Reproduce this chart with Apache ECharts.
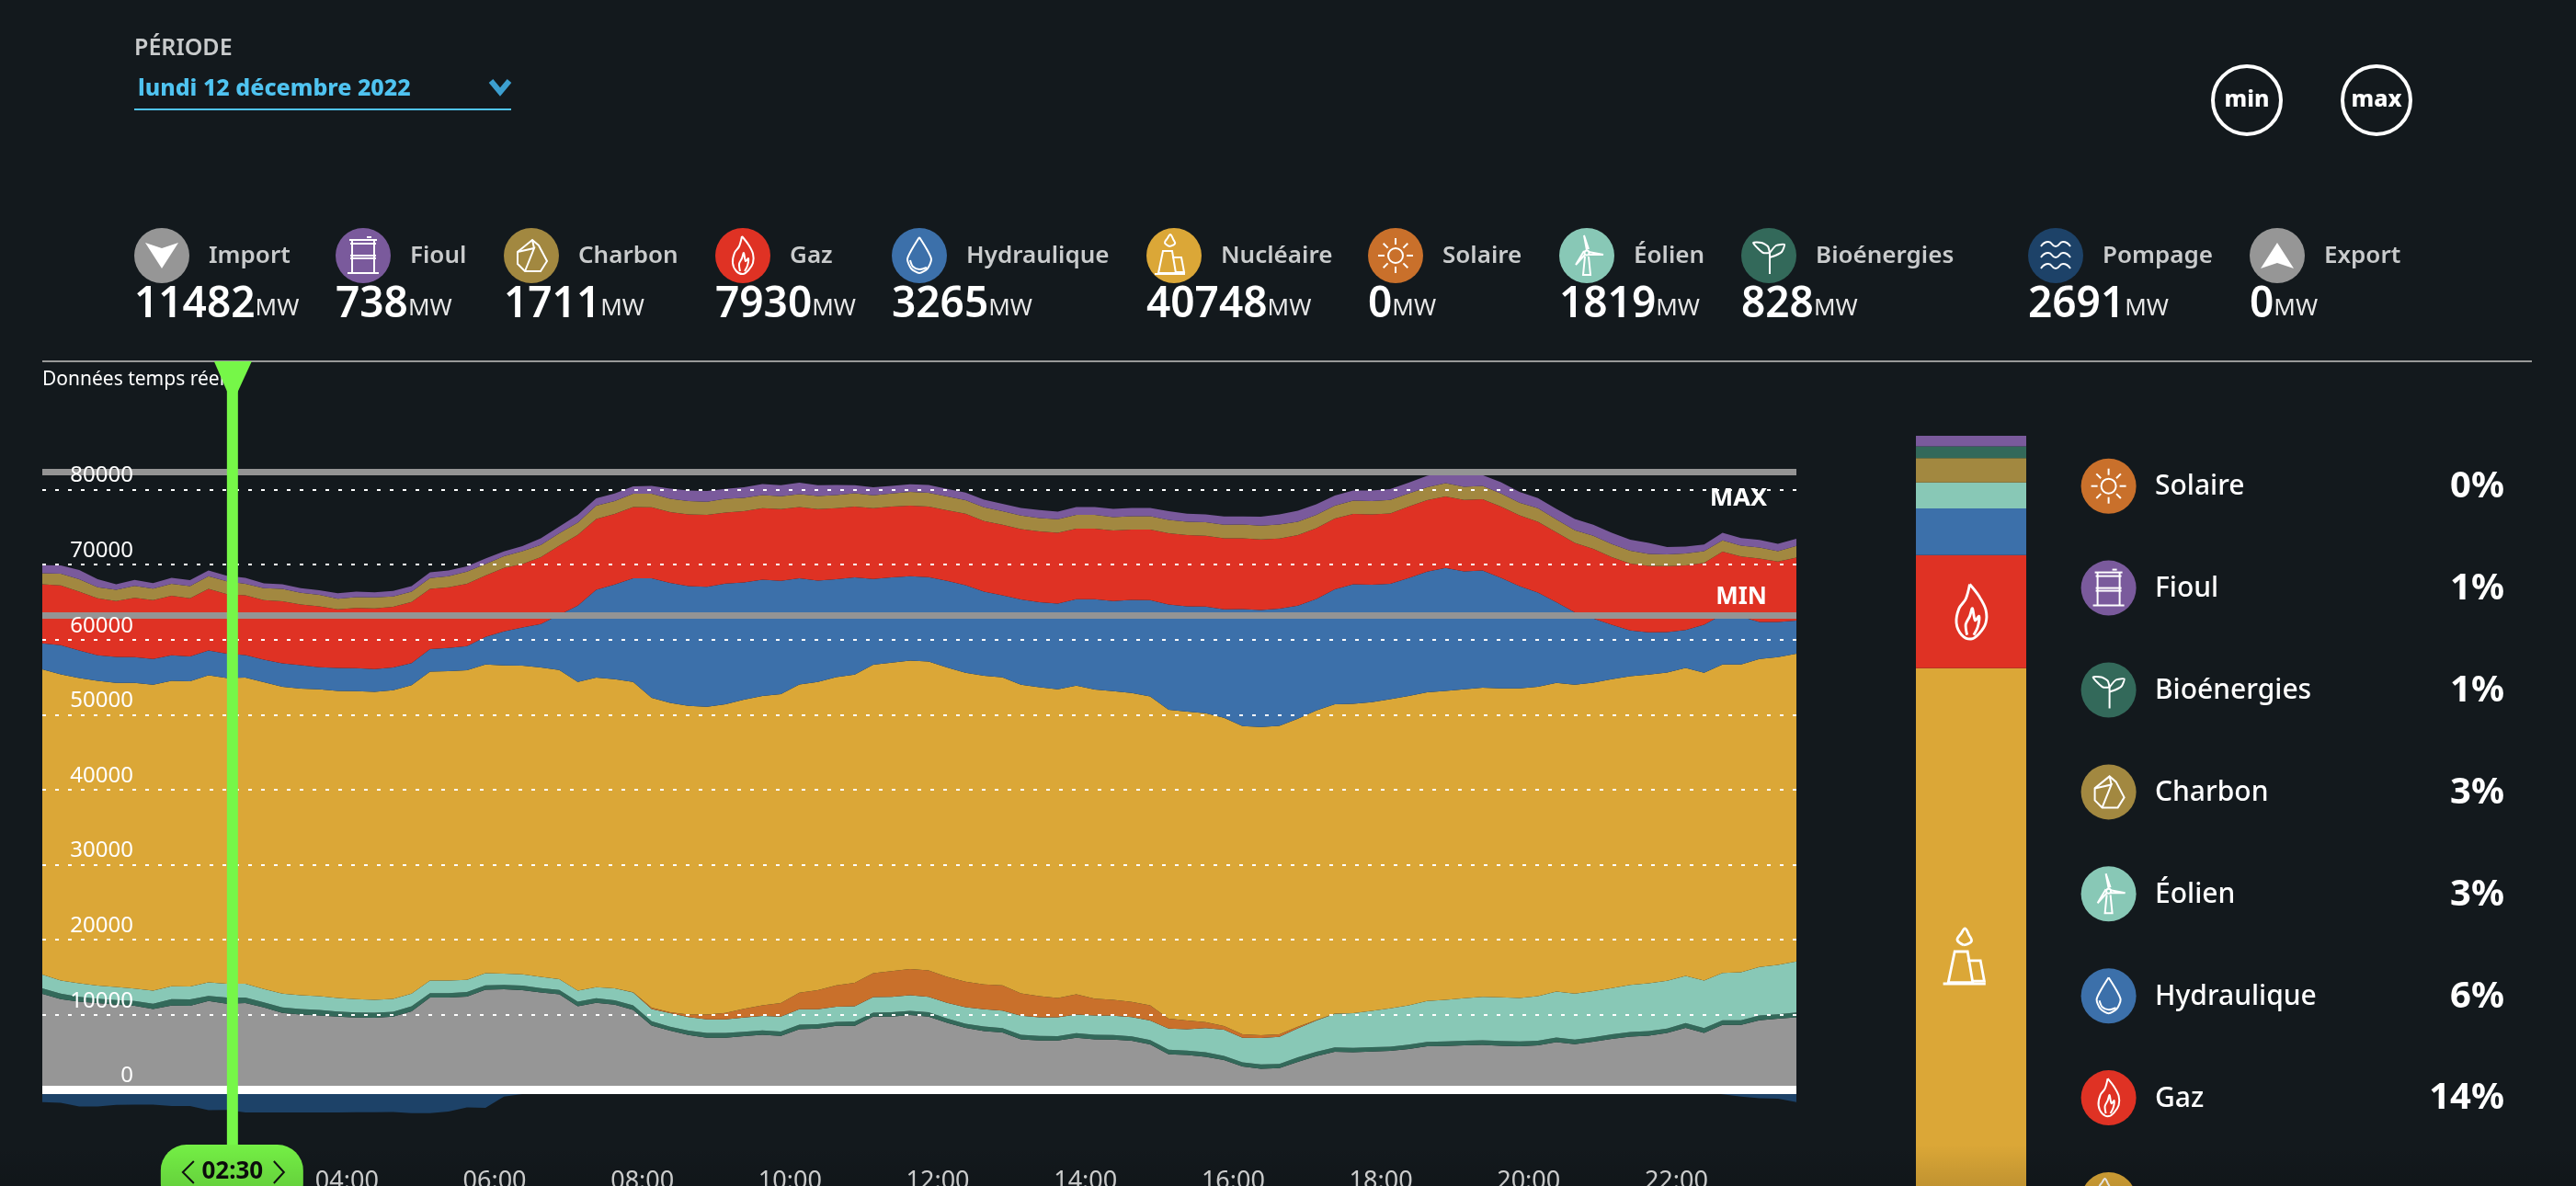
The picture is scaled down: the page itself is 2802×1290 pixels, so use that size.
<!DOCTYPE html>
<html lang="fr">
<head>
<meta charset="utf-8">
<title>Mix électrique</title>
<script src="https://cdn.jsdelivr.net/npm/echarts@6/dist/echarts.min.js"></script>
<style>html,body{margin:0;padding:0;background:#13191d;overflow:hidden}#c{width:2802px;height:1290px}</style>
</head>
<body>
<div id="c"></div>
<script>
const periodLabel = 'lundi 12 décembre 2022';
const tickHours = ['04:00','06:00','08:00','10:00','12:00','14:00','16:00','18:00','20:00','22:00'];
const cursorTime = '02:30';
const maxValue = 82350;
const minValue = 63270;

const importMW = [12781,12087,11760,11556,11352,11188,10780,11229,11188,11842,11482,11556,10984,10249,10044,9922,9758,9636,9595,9758,10453,12291,12291,12414,13353,13394,13272,12986,12741,11147,11597,11352,10657,
8574,7880,7307,6940,6940,7144,7348,7185,8083,8165,8533,8533,9758,9758,9963,9758,8941,8247,7838,7634,6735,6572,6572,6940,6735,6695,6531,6041,4734,4652,4407,3958,3100,2814,2895,
3713,4489,5060,5020,5101,5183,5428,5796,5837,5919,6000,5878,5796,5919,6368,6082,6409,6777,7103,7226,7593,8247,7593,8655,8655,9268,9472,9677];
const bioMW = [735,735,650,610,610,650,690,860,860,690,828,735,690,735,735,735,690,690,690,650,690,610,610,610,570,610,610,570,570,610,610,570,610,
570,530,570,650,650,610,570,570,610,570,530,570,530,570,570,570,570,570,610,610,610,610,570,610,610,610,610,610,610,570,610,570,570,570,570,
610,570,610,570,570,570,610,610,610,610,610,650,650,610,610,610,610,610,610,610,570,650,650,610,610,650,610,650];
const eolienMW = [1838,1757,1797,1716,1757,1675,1757,1716,1716,1797,1819,1838,1757,1838,1838,1838,1797,1757,1716,1716,1675,1675,1675,1634,1634,1471,1511,1511,1430,1471,1471,1593,1716,
1634,1797,1838,1797,1797,1879,1920,2002,2043,2002,2002,2043,2083,2083,2083,2083,2083,2206,2288,2328,2533,2492,2533,2492,2574,2574,2574,2574,2819,2860,3227,3472,3268,3513,3595,
3881,4167,4453,4616,4861,5106,5229,5433,5556,5678,5801,5801,5801,5964,6128,6128,6128,6168,6291,6373,6373,6291,6332,6332,6413,6454,6577,6781];
const solaireMW = [0,0,0,0,0,0,0,0,0,0,0,0,0,0,0,0,0,0,0,0,0,0,0,0,0,0,0,0,0,0,0,0,40,
163,123,327,654,858,1185,1430,1797,2206,2533,2860,3105,3186,3431,3472,3513,3472,3391,3309,3350,2982,2819,2574,2696,2247,2124,2002,2043,1307,1144,776,490,449,368,327,
204,82,41,0,0,0,0,0,0,0,0,0,0,0,0,0,0,0,0,0,0,0,0,0,0,0,0,0];
const nucleaireMW = [40688,40810,40688,40647,40524,40728,40769,40728,40688,40933,40748,40810,40892,40892,40851,40892,40933,41055,41055,41137,41137,41178,41219,41259,41137,41096,41137,41219,41219,41137,41259,41219,41341,
41300,41259,41137,41014,41137,41178,41219,41178,41096,41096,41096,41096,41096,41096,41137,41178,41219,41178,41137,41055,41137,41178,41137,41137,41178,41137,41178,41178,41178,41178,41178,41096,41096,41096,41137,
41055,41259,41219,41259,41137,41219,41219,41137,41178,41178,41178,41178,41259,41219,41137,41178,41137,41178,41137,41137,41096,41055,41014,41096,41014,41055,41014,41014];
const hydrauliqueMW = [3472,3881,3677,3391,3472,3431,3431,3391,3309,3309,3265,3023,3023,3145,3145,2941,3064,3064,3023,3023,2941,2982,3105,3227,3677,4534,5106,5801,7353,10172,11724,12623,13807,
15932,15972,15972,16013,16095,15646,15523,15115,14134,13521,13031,12949,11438,11356,11234,11234,11561,11683,11234,10948,11356,11315,11438,11520,12051,12010,12418,12827,14052,14052,14216,14461,15605,15605,15605,
15074,14869,15319,15932,15646,15360,15727,16095,16381,15727,15646,14747,13644,12582,10744,9641,8538,7271,6087,5637,5392,5065,6413,6659,6373,4943,4698,4412];
const gazMW = [7884,7966,7843,7598,7435,7925,7843,7925,7762,8211,7930,7966,7925,8252,8088,8129,7802,8047,8088,8088,8129,8047,8088,8293,8170,8456,8456,8905,9232,9436,9436,9396,9518,
9477,9436,9559,9559,9477,9477,9518,9559,9518,9518,9477,9436,9436,9436,9396,9396,9396,9518,9396,9396,9396,9436,9436,9396,9396,9396,9355,9396,9477,9477,9436,9477,9436,9396,9355,
9396,9436,9436,9355,9396,9396,9518,9518,9518,9518,9477,9477,9436,9436,9314,9273,9273,8987,8905,8865,8783,8579,8252,8374,8047,8456,8047,8415];
const charbonMW = [1471,1552,1634,1471,1511,1593,1552,1593,1634,1675,1711,1511,1593,1675,1552,1511,1430,1430,1471,1389,1389,1430,1471,1634,1552,1552,1716,1634,1634,1634,1757,1716,1757,
1797,1797,1757,1757,1838,1797,1757,1716,1716,1757,1757,1797,1716,1757,1838,1838,1838,1797,1838,1797,1797,1797,1797,1838,1838,1797,1797,1797,1797,1797,1797,1797,1838,1838,1879,
1797,1757,1716,1797,1757,1797,1757,1716,1797,1757,1797,1757,1675,1797,1716,1675,1757,1757,1716,1593,1552,1593,1552,1511,1430,1471,1389,1552];
const fioulMW = [1062,1103,1226,1062,735,776,735,817,776,776,738,817,654,613,613,613,735,735,694,735,735,776,776,694,735,654,654,899,899,1021,980,1021,980,
1062,1348,1430,1430,1307,1389,1471,1471,1511,1430,1348,1062,1062,1021,1021,1062,1021,1021,1021,980,1021,1062,1021,1062,1062,1103,1103,1103,1144,1062,1062,1103,1062,1185,1348,
1471,1430,1348,1348,1430,1430,1430,1552,1471,1552,1430,1511,1430,1348,1430,1511,1471,1511,1471,1471,980,940,899,1021,1021,1021,980,940];
const pompageMW = [-1634,-1716,-2206,-2206,-2002,-1961,-1961,-2165,-2165,-2696,-2691,-3023,-3023,-3023,-3023,-3023,-3023,-2982,-2982,-2941,-3105,-3105,-2900,-2328,-2410,-899,-570,0,0,0,0,0,0,
0,0,0,0,0,0,0,0,0,0,0,0,0,0,0,0,0,0,0,0,0,0,0,0,0,0,0,0,0,0,0,0,0,0,0,
0,0,0,0,0,0,0,0,0,0,0,0,0,0,0,0,0,0,0,0,0,0,-300,-600,-899,-1103,-1185,-1634];
const timeLabels = [];
for (let h = 0; h < 24; h++) for (const m of ['00','15','30','45']) timeLabels.push(String(h).padStart(2,'0') + ':' + m);

const headerNames = ['Import','Fioul','Charbon','Gaz','Hydraulique','Nucléaire','Solaire','Éolien','Bioénergies','Pompage','Export'];
const headerValues = [11482,738,1711,7930,3265,40748,0,1819,828,2691,0];
const mixNames = ['Solaire','Fioul','Bioénergies','Charbon','Éolien','Hydraulique','Gaz','Nucléaire'];
const mixPercents = ['0%','1%','1%','3%','3%','6%','14%','71%'];
const barValues = {Nucléaire:40748, Gaz:7930, Hydraulique:3265, Éolien:1819, Charbon:1711, Bioénergies:828, Fioul:738};

const colors = {Import:'#969696',Fioul:'#7a5a9c',Charbon:'#a28840',Gaz:'#df3224',Hydraulique:'#3c70aa',Nucléaire:'#dba737',Solaire:'#c9702b',Éolien:'#88c8b6',Bioénergies:'#33695a',Pompage:'#1d4268',Export:'#969696'};
const headerLeft = [146,365,548,778,970,1247,1488,1696,1894,2206,2447];
const FF = '"Noto Sans", sans-serif';
const BG = '#13191d', GREEN = '#76f748';
const IZ = 21;

function txt(x,y,text,font,fill,align){return {type:'text',x,y:y+2,silent:true,z:20,style:{text,font:font+' '+FF,fill,align:align||'left',verticalAlign:'middle'}};}
function pl(points,smooth,closed){return {type:closed?'polygon':'polyline',silent:true,z:IZ,shape:{points,smooth:smooth||0},style:{stroke:'#fff',lineWidth:2,fill:null}};}
function fillPoly(points){return {type:'polygon',silent:true,z:IZ,shape:{points},style:{fill:'#fff'}};}
function circ(x,y,r){return {type:'circle',silent:true,z:IZ,shape:{cx:x,cy:y,r},style:{stroke:'#fff',lineWidth:2,fill:null}};}
const flame=()=>[pl([[-1,-21],[6,-12],[11,-2],[11,8],[6,16],[0,20],[-7,17],[-11,8],[-9,-3],[-4,-10],[-1,-21]],0.35),pl([[-3,17],[-4,9],[-1,3],[1,-3],[3,6],[6,3],[5,11],[2,17]],0.3)];
const icons={
 Import:()=>[fillPoly([[-18,-14],[0,-8],[18,-14],[0,14]])],
 Export:()=>[fillPoly([[0,-14],[18,14],[0,8],[-18,14]])],
 Fioul:()=>[pl([[-15,-17],[15,-17]]),pl([[-12,-17],[-12,19]]),pl([[12,-17],[12,19]]),pl([[-14,0],[14,0]]),pl([[-14,3],[14,3]]),pl([[-17,19],[17,19]]),pl([[-14,-13],[14,-13]]),pl([[4,-20],[9,-20]])],
 Charbon:()=>[pl([[-15,-4],[1,-17],[8,-11],[17,6],[10,17],[-7,17],[-15,9]],0,true),pl([[-15,-4],[3,-8],[-7,17]]),pl([[1,-17],[3,-8]])],
 Gaz:flame,
 Hydraulique:()=>[pl([[0,-20],[8,-7],[13,4],[9,14],[0,19],[-9,14],[-13,4],[-8,-7],[0,-20]],0.25),pl([[-10,5],[-7,12],[0,15],[8,13]],0.3)],
 Nucléaire:()=>[pl([[-12,-5],[-2,-5],[2,19],[-17,19]],0,true),pl([[-2,2],[8,2],[11,18],[2,18]]),pl([[-21,20],[12,20]]),pl([[-5,-10],[-10,-14],[-7,-19],[-4,-23],[-1,-18],[1,-13],[-5,-10]],0.4)],
 Solaire:()=>{const a=[circ(0,0,8)];for(const p of [[0,-1],[0.7,-0.7],[1,0],[0.7,0.7],[0,1],[-0.7,0.7],[-1,0],[-0.7,-0.7]])a.push(pl([[p[0]*12,p[1]*12],[p[0]*19,p[1]*19]]));return a;},
 Éolien:()=>[pl([[-2,1],[-4,21],[4,21],[2,1]]),circ(0,-3,2.5),pl([[0,-6],[-3,-22],[2,-7]]),pl([[2,-4],[18,-1],[2,-1]]),pl([[-2,-1],[-12,10],[-3,-5]])],
 Bioénergies:()=>[pl([[1,20],[1,-5]]),pl([[1,-3],[-6,-3],[-12,-8],[-17,-14],[-8,-14],[-1,-10],[1,-3]],0.2),pl([[1,-3],[8,-11],[17,-12],[14,-4],[7,0],[1,2]],0.2)],
 Pompage:()=>{const a=[];for(const y of [-12,0,12])a.push(pl([[-16,y+2],[-8,y-3],[0,y+2],[8,y-3],[16,y+2]],0.6));return a;}
};
function icon(name,cx,cy,s){return {type:'group',x:cx,y:cy,scaleX:s||1,scaleY:s||1,silent:true,children:icons[name]()};}
function badge(name,cx,cy){return [{type:'circle',silent:true,z:20,shape:{cx,cy,r:30},style:{fill:colors[name]}},icon(name,cx,cy)];}

const graphics = [];
graphics.push(txt(146,51,'PÉRIODE','600 25px','#c9cbcc'));
graphics.push(txt(150,95,periodLabel,'800 25px','#4fc3f0'));
graphics.push({type:'rect',silent:true,z:20,shape:{x:146,y:118,width:410,height:2},style:{fill:'#4fc3f0'}});
graphics.push({type:'polyline',silent:true,z:20,shape:{points:[[534,88],[544,100],[554,88]]},style:{stroke:'#3c9fd0',lineWidth:6,fill:null}});
for (const [x,t] of [[2444,'min'],[2585,'max']]) {
  graphics.push({type:'circle',silent:true,z:20,shape:{cx:x,cy:109,r:37},style:{stroke:'#fff',lineWidth:4,fill:null}});
  graphics.push(txt(x,107,t,'800 25px','#fff','center'));
}
headerNames.forEach((n,i)=>{
  const l=headerLeft[i];
  graphics.push(...badge(n,l+30,278));
  graphics.push(txt(l+81,277,n,'600 26px','#c9cbcc'));
  graphics.push({type:'text',x:l,y:330,silent:true,z:20,style:{text:'{v|'+headerValues[i]+'}{u|MW}',fill:'#fff',align:'left',verticalAlign:'middle',
    rich:{v:{font:'600 46px '+FF,fill:'#fff',lineHeight:50,verticalAlign:'bottom'},u:{font:'400 26px '+FF,fill:'#e8e8e8',lineHeight:50,verticalAlign:'bottom',padding:[0,0,6,0]}}}});
});
graphics.push({type:'rect',silent:true,z:20,shape:{x:46,y:392,width:2708,height:2},style:{fill:'#999'}});
graphics.push(txt(46,411,'Données temps réel','400 21px','#fff'));
mixNames.forEach((n,i)=>{
  const y=528.7+110.9*i;
  const extra = i===7 ? 4 : 0;
  graphics.push(...badge(n,2293.6,y));
  graphics.push(txt(2344,y-1+extra,n,'500 30px','#fff'));
  graphics.push(txt(2724,y-1+extra,mixPercents[i],'700 40px','#fff','right'));
});
graphics.push(icon('Gaz',2144,666,1.45));
graphics.push(icon('Nucléaire',2143,1042,1.4));

const stackOrder=[['Import',importMW],['Bioénergies',bioMW],['Éolien',eolienMW],['Solaire',solaireMW],['Nucléaire',nucleaireMW],['Hydraulique',hydrauliqueMW],['Gaz',gazMW],['Charbon',charbonMW],['Fioul',fioulMW]];
const series = stackOrder.map(([n,d])=>({name:n,type:'line',stack:'mix',data:d,xAxisIndex:0,yAxisIndex:0,symbol:'none',lineStyle:{width:0},areaStyle:{color:colors[n],opacity:1},z:2,silent:true}));
series.push({name:'Pompage',type:'line',stack:'neg',data:pompageMW,xAxisIndex:0,yAxisIndex:0,symbol:'none',lineStyle:{width:0},areaStyle:{color:colors.Pompage,opacity:1},z:2,silent:true});
series[0].markLine={silent:true,symbol:'none',animation:false,z:5,precision:0,data:[
  {yAxis:maxValue,lineStyle:{color:'#949494',width:7,type:'solid'},label:{show:true,formatter:'MAX',position:'insideEndBottom',distance:[32,15],color:'#fff',fontSize:27,fontWeight:700,fontFamily:FF}},
  {yAxis:minValue,lineStyle:{color:'#949494',width:7,type:'solid'},label:{show:true,formatter:'MIN',position:'insideEndTop',distance:[32,7],color:'#fff',fontSize:26,fontWeight:700,fontFamily:FF}},
  {yAxis:0,lineStyle:{color:'#ffffff',width:9,type:'solid'},label:{show:false}}
]};
for (const n of ['Nucléaire','Gaz','Hydraulique','Éolien','Charbon','Bioénergies','Fioul']) {
  series.push({name:'bar '+n,type:'bar',stack:'b',xAxisIndex:1,yAxisIndex:1,barWidth:'100%',data:[barValues[n]],itemStyle:{color:colors[n]},silent:true});
}
const barTotal = Object.values(barValues).reduce((a,b)=>a+b,0);

const chart = echarts.init(document.getElementById('c'));
chart.setOption({
  animation:false,backgroundColor:BG,
  grid:[{left:46,width:1908,top:451,height:816,containLabel:false,outerBoundsMode:'none'},{left:2084,width:120,top:474,height:885,outerBoundsMode:'none'}],
  xAxis:[{type:'category',gridIndex:0,data:timeLabels,boundaryGap:false,axisLine:{show:false},axisTick:{show:false},splitLine:{show:false},
    axisLabel:{color:'#dfe0e0',fontSize:27,fontFamily:FF,margin:5,padding:[0,0,0,20],interval:(i,v)=>tickHours.includes(v),formatter:v=>v}},
    {type:'category',gridIndex:1,data:['mix'],show:false}],
  yAxis:[{type:'value',gridIndex:0,min:-10000,max:90000,interval:10000,z:6,axisLine:{show:false},axisTick:{show:false},
    splitLine:{show:true,showMinLine:false,showMaxLine:false,lineStyle:{color:'#fff',width:2,type:[4,10]}},
    axisLabel:{inside:true,align:'right',verticalAlign:'bottom',margin:99,padding:[0,0,3,0],color:'#fff',fontSize:24,fontFamily:FF,showMinLabel:false,showMaxLabel:false,formatter:v=>String(v)}},
    {type:'value',gridIndex:1,min:0,max:barTotal,show:false}],
  series,graphic:graphics
});
const cx = chart.convertToPixel({xAxisIndex:0},cursorTime);
chart.setOption({graphic:graphics.concat([
  {type:'rect',silent:true,z:30,shape:{x:cx,y:393,width:12,height:860},style:{fill:GREEN}},
  {type:'polygon',silent:true,z:30,shape:{points:[[cx-14,393],[cx+27,393],[cx+10,430],[cx+2,430]]},style:{fill:GREEN}},
  {type:'rect',silent:true,z:31,shape:{x:cx-72,y:1245,width:155,height:70,r:28},style:{fill:'#74ef45'}},
  {type:'polyline',silent:true,z:32,shape:{points:[[cx-36,1263],[cx-48,1275],[cx-36,1287]]},style:{stroke:'#111',lineWidth:2,fill:null}},
  {type:'polyline',silent:true,z:32,shape:{points:[[cx+51,1263],[cx+62,1275],[cx+51,1287]]},style:{stroke:'#111',lineWidth:2,fill:null}},
  {type:'text',silent:true,z:32,x:cx+6,y:1275,style:{text:cursorTime,font:'700 26px '+FF,fill:'#0d0d0d',align:'center',verticalAlign:'middle'}},
  {type:'rect',silent:true,z:40,shape:{x:0,y:1245,width:2802,height:45},style:{fill:new echarts.graphic.LinearGradient(0,0,0,1,[{offset:0,color:'rgba(0,0,0,0)'},{offset:1,color:'rgba(0,0,0,0.12)'}])}}
])});
</script>
</body>
</html>
